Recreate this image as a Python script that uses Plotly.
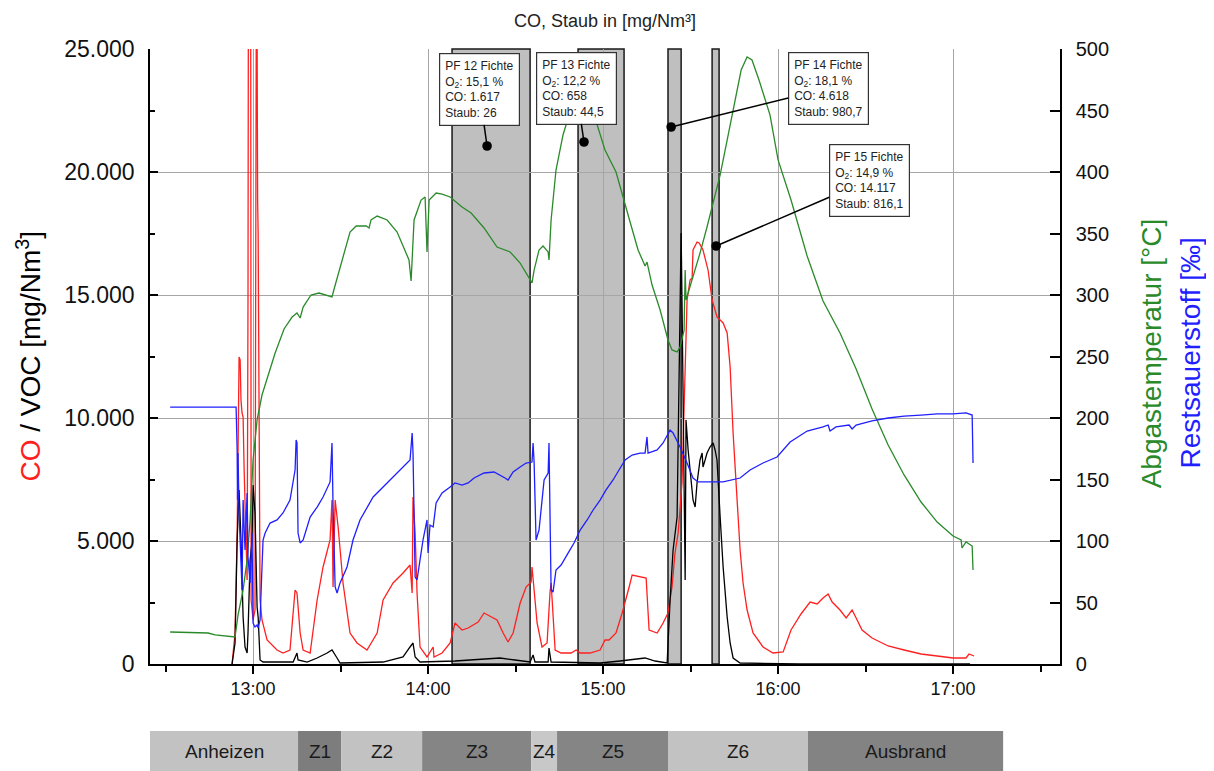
import plotly.graph_objects as go

# ---------------- data ----------------
green_t = [12.526,12.743,12.783,12.897,12.914,12.943,12.966,12.983,13.000,13.023,
           13.051,13.086,13.126,13.177,13.223,13.251,13.269,13.286,13.331,13.377,
           13.451,13.463,13.509,13.554,13.589,13.646,13.663,13.674,13.709,13.766,
           13.823,13.874,13.891,13.903,13.920,13.960,13.983,13.994,14.006,14.046,
           14.080,14.126,14.194,14.246,14.320,14.394,14.469,14.526,14.560,14.594,
           14.606,14.634,14.657,14.686,14.691,14.703,14.731,14.771,14.811,14.857,
           14.903,14.954,15.011,15.074,15.143,15.200,15.240,15.251,15.280,15.326,
           15.371,15.394,15.423,15.440,15.463,15.469,15.474,15.514,15.554,15.594,
           15.623,15.669,15.709,15.754,15.789,15.823,15.851,15.891,15.954,16.000,
           16.074,16.166,16.257,16.354,16.446,16.537,16.629,16.720,16.817,16.909,
           17.000,17.046,17.051,17.074,17.109,17.114]
green_v = [26.0,25.2,23.6,22.0,39.8,60.2,84.6,117.1,165.9,198.4,
           218.7,235.0,252.8,272.4,282.1,285.4,281.3,290.2,300.0,301.6,
           298.4,304.9,328.5,351.2,356.1,356.1,354.5,361.0,364.2,361.0,
           351.2,335.0,328.5,311.4,361.0,377.2,379.7,335.0,377.2,382.9,
           382.1,379.7,371.5,366.7,354.5,339.0,335.0,326.0,317.9,309.8,
           320.3,336.6,339.8,335.0,328.5,361.0,401.6,430.1,448.8,458.5,
           456.1,443.9,417.9,400.0,365.0,336.6,323.6,326.8,308.1,287.8,
           263.4,255.3,253.7,257.7,271.5,320.3,295.9,314.6,334.1,355.3,
           371.5,397.6,426.0,458.5,482.9,493.5,491.1,474.8,446.3,409.8,
           377.2,331.7,295.1,269.1,239.8,207.3,178.0,153.7,131.7,115.4,
           104.1,100.8,94.3,99.2,95.9,76.4]

red_t = [12.880,12.897,12.909,12.920,12.926,12.931,12.937,12.943,12.949,12.954,
         12.960,12.966,12.971,12.974,12.986,12.989,13.000,13.011,13.020,13.023,
         13.026,13.029,13.034,13.040,13.051,13.080,13.137,13.171,13.211,13.240,
         13.251,13.269,13.286,13.326,13.366,13.400,13.440,13.451,13.457,13.469,
         13.486,13.514,13.554,13.594,13.651,13.709,13.743,13.800,13.857,13.897,
         13.909,13.914,13.926,13.937,13.954,13.994,14.029,14.034,14.080,14.126,
         14.154,14.194,14.229,14.286,14.320,14.360,14.394,14.429,14.457,14.486,
         14.526,14.560,14.589,14.594,14.611,14.623,14.651,14.680,14.697,14.703,
         14.709,14.726,14.760,14.817,14.846,14.869,14.926,14.983,15.011,15.034,
         15.074,15.109,15.149,15.166,15.246,15.263,15.309,15.343,15.371,15.394,
         15.411,15.429,15.451,15.469,15.480,15.497,15.509,15.514,15.537,15.549,
         15.571,15.600,15.623,15.651,15.686,15.709,15.726,15.743,15.766,15.783,
         15.800,15.823,15.857,15.914,15.971,16.029,16.074,16.131,16.183,16.223,
         16.257,16.286,16.309,16.331,16.354,16.389,16.423,16.446,16.480,16.537,
         16.629,16.720,16.817,16.909,17.000,17.074,17.091,17.120]
red_v = [0,1260,5325,12480,12358,10732,10203,10041,7886,6667,
         4228,3415,14797,32000,32000,2602,1789,2195,32000,19675,
         18862,17480,9919,2602,1789,976,569,447,569,3008,
         2886,1260,569,447,2602,3943,5041,6667,3130,6667,
         5569,3293,1260,854,569,1260,2602,3293,3699,4024,
         2886,6789,5325,2886,691,285,691,285,447,854,
         1667,1382,1463,1707,2073,1911,1789,1260,894,1260,
         2480,3130,3333,3943,2480,1667,691,854,2927,3293,
         2602,569,447,447,569,447,447,569,976,976,
         1260,2073,3130,3618,3496,1382,1260,1667,2073,3130,
         4512,5325,7358,12073,14797,15610,15691,16829,17154,17114,
         16829,16016,14797,14106,13862,13455,12073,9390,6667,4634,
         3293,2195,1260,691,447,488,1382,2033,2520,2439,
         2683,2846,2520,2358,2195,1870,2195,1870,1382,1057,
         732,569,407,325,244,244,407,325]

black_t = [12.880,12.897,12.909,12.920,12.931,12.937,12.943,12.954,12.966,12.971,
           12.983,12.994,13.000,13.011,13.017,13.023,13.029,13.040,13.057,13.229,
           13.251,13.257,13.309,13.366,13.423,13.451,13.480,13.497,13.743,13.857,
           13.897,13.914,13.926,13.954,14.154,14.297,14.411,14.497,14.583,14.600,
           14.611,14.686,14.691,14.703,14.983,15.097,15.183,15.240,15.297,15.366,
           15.383,15.400,15.423,15.429,15.440,15.446,15.451,15.457,15.463,15.469,
           15.474,15.486,15.514,15.526,15.537,15.554,15.566,15.571,15.583,15.594,
           15.611,15.629,15.640,15.651,15.669,15.686,15.709,15.726,15.743,15.783,
           16.126,17.097]
black_v = [0,854,5041,7073,5041,2886,1911,691,447,1260,
           4228,4919,7276,6138,3943,2317,1911,163,81,81,
           447,163,81,244,447,569,244,41,81,285,
           691,854,285,81,122,203,244,163,81,366,
           81,81,650,81,41,122,203,244,122,41,
           2602,4634,5976,9390,16138,17520,14797,11423,8008,3415,
           9919,8699,6667,6382,7358,8293,8577,8008,8293,8577,
           8821,8984,8699,8293,5976,3943,1911,854,244,41,
           0,0]

blue_t = [12.526,12.897,12.903,12.909,12.911,12.914,12.920,12.937,12.943,12.954,
          12.966,12.971,12.983,12.994,13.000,13.011,13.023,13.029,13.040,13.051,
          13.057,13.069,13.097,13.137,13.171,13.211,13.240,13.246,13.251,13.257,
          13.269,13.286,13.309,13.326,13.366,13.400,13.440,13.451,13.457,13.469,
          13.480,13.497,13.537,13.571,13.611,13.651,13.686,13.743,13.800,13.857,
          13.897,13.909,13.914,13.926,13.937,13.954,13.971,13.994,14.000,14.011,
          14.029,14.046,14.080,14.126,14.154,14.194,14.229,14.263,14.320,14.377,
          14.411,14.440,14.457,14.486,14.526,14.560,14.594,14.600,14.606,14.617,
          14.634,14.663,14.686,14.691,14.703,14.714,14.731,14.760,14.800,14.834,
          14.869,14.909,14.943,14.983,15.017,15.057,15.091,15.126,15.166,15.211,
          15.240,15.251,15.257,15.309,15.343,15.383,15.400,15.440,15.480,15.514,
          15.543,15.686,15.783,15.840,15.914,15.994,16.069,16.166,16.257,16.286,
          16.297,16.331,16.406,16.423,16.446,16.537,16.629,16.720,16.817,16.909,
          17.000,17.074,17.109,17.114]
blue_v = [208.9,208.9,208.9,174.0,133.3,171.5,122.8,60.2,133.3,92.7,
          139.0,87.0,65.9,106.5,33.3,30.1,31.7,29.3,35.8,78.9,
          100.8,106.5,114.6,117.1,122.8,133.3,157.7,182.1,179.7,106.5,
          98.4,100.8,111.4,119.5,127.6,135.8,148.0,179.7,127.6,62.6,
          57.7,65.9,78.9,100.8,117.1,127.6,135.8,143.9,152.0,160.2,
          165.9,187.8,171.5,70.7,68.3,84.6,100.8,117.1,90.2,113.0,
          111.4,130.9,139.0,143.9,147.2,145.5,147.2,151.2,155.3,156.1,
          153.7,151.2,149.6,156.1,160.2,163.4,164.2,179.7,163.4,100.8,
          108.9,149.6,155.3,179.7,60.2,58.5,76.4,80.5,90.2,98.4,
          108.9,117.1,125.2,133.3,141.5,149.6,157.7,165.9,169.9,171.5,
          171.5,184.6,171.5,174.0,179.7,190.2,187.8,176.4,163.4,151.2,
          148.0,148.0,151.2,157.7,163.4,168.3,180.5,189.4,192.7,194.3,
          189.4,192.7,194.3,191.1,194.3,197.6,200.0,201.6,202.4,203.3,
          203.3,204.1,202.4,163.4]

assert len(green_t) == len(green_v)
assert len(red_t) == len(red_v)
assert len(black_t) == len(black_v)
assert len(blue_t) == len(blue_v)

# sampling periods (grey bands)
band_start = [14.137, 14.857, 15.371, 15.623]
band_end = [14.583, 15.120, 15.446, 15.663]

# sample annotations
pf_t = [14.337, 14.891, 15.389, 15.646]
pf_v = [21057, 21219, 21829, 16992]
pf_text = [
    "PF 12 Fichte<br>O<sub>2</sub>: 15,1 %<br>CO: 1.617<br>Staub: 26",
    "PF 13 Fichte<br>O<sub>2</sub>: 12,2 %<br>CO: 658<br>Staub: 44,5",
    "PF 14 Fichte<br>O<sub>2</sub>: 18,1 %<br>CO: 4.618<br>Staub: 980,7",
    "PF 15 Fichte<br>O<sub>2</sub>: 14,9 %<br>CO: 14.117<br>Staub: 816,1",
]

# phases
phase_names = ["Anheizen", "Z1", "Z2", "Z3", "Z4", "Z5", "Z6", "Ausbrand"]
phase_start = [12.40, 13.257, 13.503, 13.966, 14.589, 14.737, 15.371, 16.171]
phase_end = [13.257, 13.503, 13.966, 14.589, 14.737, 15.371, 16.171, 17.286]

x_tickvals = [13, 14, 15, 16, 17]
x_ticktext = ["13:00", "14:00", "15:00", "16:00", "17:00"]
y_tickvals = [0, 5000, 10000, 15000, 20000, 25000]
y_ticktext = ["0", "5.000", "10.000", "15.000", "20.000", "25.000"]
y2_tickvals = list(range(0, 501, 50))

# ---------------- figure ----------------
FONT = "Liberation Sans, Arial, sans-serif"
fig = go.Figure()
fig.add_trace(go.Scatter(x=green_t, y=green_v, yaxis="y2", mode="lines",
                         line=dict(color="#2a8a2a", width=1.3), name="Abgastemperatur"))
fig.add_trace(go.Scatter(x=blue_t, y=blue_v, yaxis="y2", mode="lines",
                         line=dict(color="#1f1fff", width=1.3), name="Restsauerstoff"))
fig.add_trace(go.Scatter(x=red_t, y=red_v, mode="lines",
                         line=dict(color="#ff2020", width=1.3), name="CO"))
fig.add_trace(go.Scatter(x=black_t, y=black_v, mode="lines",
                         line=dict(color="#000000", width=1.3), name="VOC"))

shapes = []
for s, e in zip(band_start, band_end):
    shapes.append(dict(type="rect", xref="x", yref="paper", x0=s, x1=e, y0=0, y1=1,
                       fillcolor="#bfbfbf", line=dict(color="#1a1a1a", width=1.5),
                       layer="between"))
phase_colors = ["#c2c2c2", "#7d7d7d", "#c2c2c2", "#858585", "#c8c8c8", "#858585", "#c2c2c2", "#838383"]
for s, e, c in zip(phase_start, phase_end, phase_colors):
    shapes.append(dict(type="rect", xref="x", yref="paper", x0=s, x1=e, y0=-0.19, y1=-0.109,
                       fillcolor=c, line=dict(width=0), layer="above"))

annotations = []
for s, e, n in zip(phase_start, phase_end, phase_names):
    annotations.append(dict(x=(max(s, 12.411) + e) / 2, y=-0.1415, xref="x", yref="paper",
                            xanchor="center", yanchor="middle",
                            text=n, showarrow=False, font=dict(size=19, color="#1a1a1a", family=FONT)))

offsets = [(-8, -57), (-8, -54), (157, -39), (153, -66)]
for t, v, txt, (ax, ay) in zip(pf_t, pf_v, pf_text, offsets):
    annotations.append(dict(x=t, y=v, xref="x", yref="y", text=txt, align="left",
                            showarrow=True, ax=ax, ay=ay, arrowhead=6, arrowsize=1.6,
                            arrowwidth=1.5, arrowcolor="black", standoff=0,
                            bgcolor="white", bordercolor="#333333", borderwidth=1.2,
                            borderpad=5, font=dict(size=12, color="#222222", family=FONT)))

annotations.append(dict(x=-0.134, y=0.5, xref="paper", yref="paper", textangle=-90,
                        xanchor="center", yanchor="middle",
                        text="<span style='color:#ff2020'>CO</span> / VOC [mg/Nm<sup>3</sup>]",
                        showarrow=False, font=dict(size=28, color="black", family=FONT)))
annotations.append(dict(x=1.101, y=0.505, xref="paper", yref="paper", textangle=-90,
                        xanchor="center", yanchor="middle",
                        text="Abgastemperatur [°C]", showarrow=False,
                        font=dict(size=28, color="#2a8a2a", family=FONT)))
annotations.append(dict(x=1.143, y=0.505, xref="paper", yref="paper", textangle=-90,
                        xanchor="center", yanchor="middle",
                        text="Restsauerstoff [‰]", showarrow=False,
                        font=dict(size=28, color="#1f1fff", family=FONT)))

fig.update_layout(
    width=1206, height=763, autosize=False,
    margin=dict(l=142, r=154, t=41, b=107),
    paper_bgcolor="white", plot_bgcolor="white",
    showlegend=False,
    title=dict(text="CO, Staub in [mg/Nm³]", x=0.495, xanchor="center", y=0.984, yanchor="middle",
               font=dict(size=18, color="#222222", family=FONT)),
    font=dict(family=FONT, color="black"),
    xaxis=dict(range=[12.411, 17.611], tickvals=x_tickvals, ticktext=x_ticktext,
               showgrid=True, gridcolor="#a6a6a6", gridwidth=1, zeroline=False,
               showline=True, linecolor="black", linewidth=1.5,
               ticks="outside", ticklen=8, tickwidth=1.5, tickcolor="black",
               tickfont=dict(size=18, color="#111111"),
               minor=dict(dtick=0.5, tick0=12.5, ticks="outside", ticklen=6, tickwidth=1.5,
                          tickcolor="black", showgrid=False)),
    yaxis=dict(range=[0, 25000], tickvals=y_tickvals, ticktext=y_ticktext,
               showgrid=True, gridcolor="#a6a6a6", gridwidth=1, zeroline=False,
               showline=True, linecolor="black", linewidth=1.5,
               ticks="inside", ticklen=8, tickwidth=1.5, tickcolor="black",
               tickfont=dict(size=23, color="#111111"), ticklabelstandoff=9,
               minor=dict(dtick=2500, ticks="inside", ticklen=5, tickwidth=1.5,
                          tickcolor="black", showgrid=False)),
    yaxis2=dict(range=[0, 500], tickvals=y2_tickvals, overlaying="y", side="right",
                showgrid=False, zeroline=False, showline=True, linecolor="black", linewidth=1.5,
                ticks="inside", ticklen=10, tickwidth=1.5, tickcolor="black",
                tickfont=dict(size=20, color="#111111"), ticklabelstandoff=10),
    shapes=shapes,
    annotations=annotations,
)

fig.write_html("out.html")
